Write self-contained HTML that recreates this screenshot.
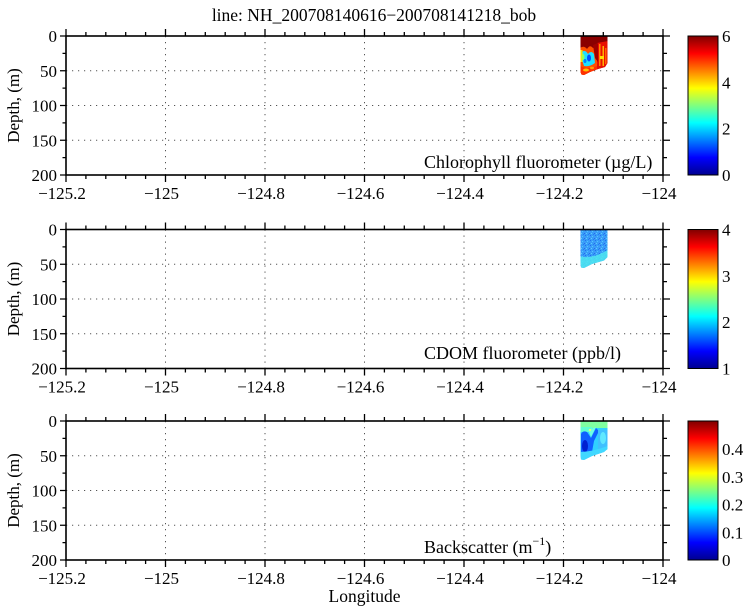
<!DOCTYPE html>
<html><head><meta charset="utf-8"><style>
html,body{margin:0;padding:0;background:#fff;}
svg{display:block;}
text{font-family:"Liberation Serif","DejaVu Serif",serif;fill:#000;}
</style></head><body>
<svg width="750" height="611" viewBox="0 0 750 611" xmlns="http://www.w3.org/2000/svg">
<defs>
<linearGradient id="jet" x1="0" y1="1" x2="0" y2="0">
<stop offset="0" stop-color="#000090"/>
<stop offset="0.125" stop-color="#0000ff"/>
<stop offset="0.375" stop-color="#00ffff"/>
<stop offset="0.625" stop-color="#ffff00"/>
<stop offset="0.875" stop-color="#ff0000"/>
<stop offset="1" stop-color="#800000"/>
</linearGradient>
<pattern id="sp" width="5" height="5" patternUnits="userSpaceOnUse">
<rect x="0" y="0" width="1" height="1" fill="#2070f0"/>
<rect x="2" y="1" width="1" height="1" fill="#50c8ff"/>
<rect x="4" y="3" width="1" height="1" fill="#2a68e8"/>
<rect x="1" y="3" width="1" height="1" fill="#58d0ff"/>
<rect x="3" y="4" width="1" height="1" fill="#1c80f8"/>
</pattern>
<g id="grid" fill="none" stroke="#555" stroke-width="1" stroke-dasharray="1.2 4.8">
<path d="M165.5,0V139M265,0V139M364.5,0V139M464,0V139M563.5,0V139"/>
<path d="M66,34.75H663M66,69.5H663M66,104.25H663"/>
</g>
<g id="frame" fill="none" stroke="#000">
<rect x="66" y="0" width="597" height="139" stroke-width="1.6"/>
<path stroke-width="1.3" d="
M66,0v-7M165.5,0v-7M265,0v-7M364.5,0v-7M464,0v-7M563.5,0v-7M663,0v-7
M66,139v7M165.5,139v7M265,139v7M364.5,139v7M464,139v7M563.5,139v7M663,139v7
M85.9,0v-4M105.8,0v-4M125.7,0v-4M145.6,0v-4M185.4,0v-4M205.3,0v-4M225.2,0v-4M245.1,0v-4M284.9,0v-4M304.8,0v-4M324.7,0v-4M344.6,0v-4M384.4,0v-4M404.3,0v-4M424.2,0v-4M444.1,0v-4M483.9,0v-4M503.8,0v-4M523.7,0v-4M543.6,0v-4M583.4,0v-4M603.3,0v-4M623.2,0v-4M643.1,0v-4
M85.9,139v4M105.8,139v4M125.7,139v4M145.6,139v4M185.4,139v4M205.3,139v4M225.2,139v4M245.1,139v4M284.9,139v4M304.8,139v4M324.7,139v4M344.6,139v4M384.4,139v4M404.3,139v4M424.2,139v4M444.1,139v4M483.9,139v4M503.8,139v4M523.7,139v4M543.6,139v4M583.4,139v4M603.3,139v4M623.2,139v4M643.1,139v4
M66,0h-6M66,34.75h-6M66,69.5h-6M66,104.25h-6M66,139h-6
M66,17.375h-3.5M66,52.125h-3.5M66,86.875h-3.5M66,121.625h-3.5
M663,0h7M663,34.75h7M663,69.5h7M663,104.25h7M663,139h7
M663,17.375h4M663,52.125h4M663,86.875h4M663,121.625h4"/>
</g>
<g id="ylab" font-size="17" text-anchor="end">
<text x="57" y="6">0</text>
<text x="57" y="40.75">50</text>
<text x="57" y="75.5">100</text>
<text x="57" y="110.25">150</text>
<text x="57" y="145">200</text>
</g>
<g id="xlab" font-size="17" text-anchor="middle">
<text x="62" y="163">−125.2</text>
<text x="161.5" y="163">−125</text>
<text x="261" y="163">−124.8</text>
<text x="360.5" y="163">−124.6</text>
<text x="460" y="163">−124.4</text>
<text x="559.5" y="163">−124.2</text>
<text x="659" y="163">−124</text>
</g>
<clipPath id="c1"><polygon points="580.5,36 607.5,36 607.5,63 605,67 598,69 590,72 584,75 581.5,74.5 580.5,72"/></clipPath>
<clipPath id="c2"><polygon points="580.5,229.5 607.5,229.5 607.5,257 604,260.5 592,264 584,268 581,267.5 580.5,263"/></clipPath>
<clipPath id="c3"><polygon points="580.5,421 607.5,421 607.5,449 604,452 592,456 584,460 581,459.5 580.5,455"/></clipPath>
</defs>

<!-- Title -->
<text x="374" y="21" font-size="17.5" text-anchor="middle">line: NH_200708140616−200708141218_bob</text>

<!-- Panel 1 -->
<g transform="translate(0,36)"><use href="#grid"/></g>
<g clip-path="url(#c1)">
<rect x="580" y="36" width="28" height="40" fill="#8a0000"/>
<path d="M597,43 L608,41 L608,68 L597,70 Z" fill="#e81000"/>
<rect x="599" y="44" width="1.5" height="22" fill="#ff8a00"/>
<rect x="602.5" y="46" width="1.5" height="20" fill="#ffb000"/>
<rect x="605" y="48" width="1.5" height="16" fill="#ff6000"/>
<rect x="600" y="56" width="4" height="3" fill="#ffe000"/>
<path d="M580,48 Q584,45 587,49 Q590,44 593,48 L597,46 L597,76 L580,76 Z" fill="#ff5000"/>
<path d="M582,52 Q585,49 588,54 Q591,50 594,54 L595,63 Q590,67 584,66 L582,60 Z" fill="#20e0ff"/>
<ellipse cx="589" cy="58" rx="2" ry="3.5" fill="#0050ff"/>
<ellipse cx="585" cy="61" rx="1.5" ry="2" fill="#0080ff"/>
<rect x="580" y="50" width="2.5" height="12" fill="#ffe000"/>
<ellipse cx="583" cy="57" rx="1.5" ry="3" fill="#90ff60"/>
<path d="M580,66 Q588,70 597,66 L597,76 L580,76 Z" fill="#ff3000"/>
<ellipse cx="586" cy="70" rx="3" ry="1.5" fill="#ffc000"/>
<ellipse cx="592" cy="68" rx="2" ry="1.2" fill="#ffa000"/>
<path d="M593,45 L598,43 L598,62 L595,58 Z" fill="#a00000"/>
</g>
<g transform="translate(0,36)"><use href="#frame"/><use href="#ylab"/><use href="#xlab"/></g>
<text x="424" y="168" font-size="18">Chlorophyll fluorometer (µg/L)</text>
<text transform="translate(19,105.5) rotate(-90)" font-size="17" text-anchor="middle">Depth, (m)</text>
<rect x="688" y="36" width="30" height="139" fill="url(#jet)" stroke="#000" stroke-width="1"/>
<g font-size="17">
<text x="722" y="42">6</text>
<text x="722" y="88.3">4</text>
<text x="722" y="134.7">2</text>
<text x="722" y="181">0</text>
</g>

<!-- Panel 2 -->
<g transform="translate(0,229.5)"><use href="#grid"/></g>
<g clip-path="url(#c2)">
<rect x="580" y="229" width="28" height="40" fill="#3a9cf8"/>
<rect x="580" y="229" width="28" height="40" fill="url(#sp)"/>
<path d="M580,256 Q590,260 608,250 L608,270 L580,270 Z" fill="#50e8f0" opacity="0.85"/>
</g>
<g transform="translate(0,229.5)"><use href="#frame"/><use href="#ylab"/><use href="#xlab"/></g>
<text x="424" y="359" font-size="18">CDOM fluorometer (ppb/l)</text>
<text transform="translate(19,299) rotate(-90)" font-size="17" text-anchor="middle">Depth, (m)</text>
<rect x="688" y="229.5" width="30" height="139" fill="url(#jet)" stroke="#000" stroke-width="1"/>
<g font-size="17">
<text x="722" y="235.5">4</text>
<text x="722" y="281.8">3</text>
<text x="722" y="328.2">2</text>
<text x="722" y="374.5">1</text>
</g>

<!-- Panel 3 -->
<g transform="translate(0,421)"><use href="#grid"/></g>
<g clip-path="url(#c3)">
<rect x="580" y="421" width="28" height="41" fill="#30d0ff"/>
<rect x="580" y="421" width="28" height="7" fill="#80ffa0"/>
<rect x="580" y="427" width="12" height="5" fill="#60ffd0"/>
<path d="M581,434 Q583,430 587,432 L591,438 L596,428 L599,431 L594,441 L592,452 L585,458 L581,457 Z" fill="#1060ff"/>
<ellipse cx="585" cy="446" rx="3" ry="6" fill="#0020d0"/>
<path d="M588,430 L596,427 L591,437 Z" fill="#70ffe0"/>
<rect x="598" y="430" width="10" height="20" fill="#40c0ff"/>
<ellipse cx="603" cy="438" rx="3" ry="6" fill="#60e8ff"/>
<circle cx="590" cy="430" r="1" fill="#ffff60"/>
<path d="M580,452 Q592,452 608,446 L608,462 L580,462 Z" fill="#40d8ff"/>
</g>
<g transform="translate(0,421)"><use href="#frame"/><use href="#ylab"/><use href="#xlab"/></g>
<text x="424" y="553" font-size="18">Backscatter (m<tspan font-size="12" dy="-8">−1</tspan><tspan dy="8">)</tspan></text>
<text transform="translate(19,490.5) rotate(-90)" font-size="17" text-anchor="middle">Depth, (m)</text>
<rect x="688" y="421" width="30" height="139" fill="url(#jet)" stroke="#000" stroke-width="1"/>
<g font-size="17">
<text x="722" y="455.2">0.4</text>
<text x="722" y="482.9">0.3</text>
<text x="722" y="510.6">0.2</text>
<text x="722" y="538.3">0.1</text>
<text x="722" y="566">0</text>
</g>

<text x="364.5" y="602" font-size="17.5" text-anchor="middle">Longitude</text>
</svg>
</body></html>
